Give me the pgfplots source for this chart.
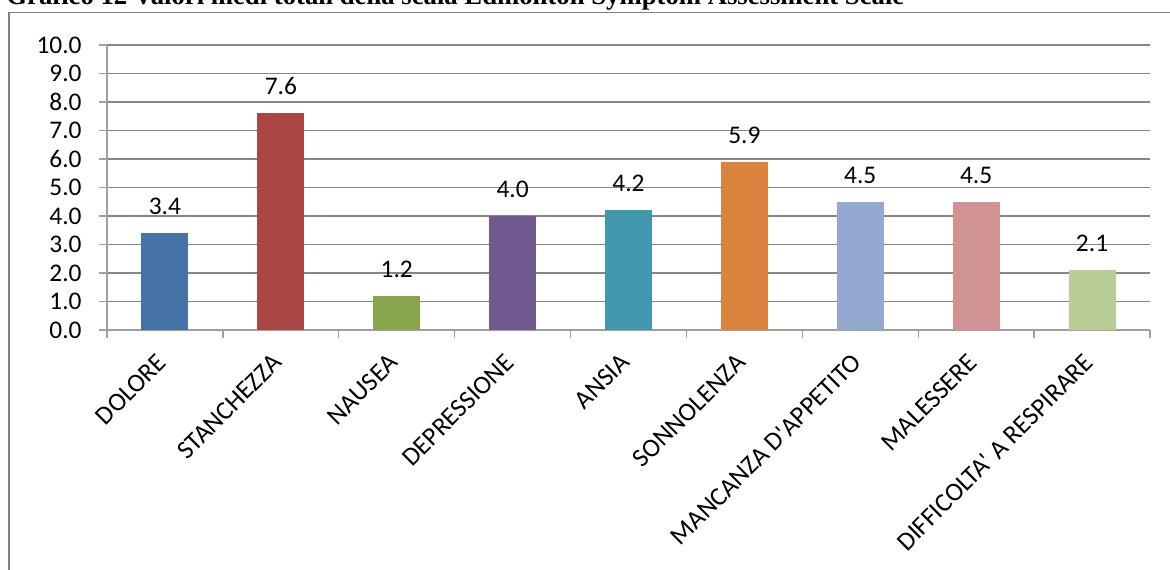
\documentclass[border=0pt]{standalone}
\usepackage{pgfplots}
\pgfplotsset{compat=1.18}
\usepackage{fontspec}
\setmainfont{Carlito}
\newfontfamily\apfont{Carlito}[Ligatures=TeXOff]
\newfontfamily\titlefont{Liberation Serif}
\newcommand{\apo}{{\apfont'}}

\definecolor{cDolore}{HTML}{4572A7}
\definecolor{cStanchezza}{HTML}{AA4643}
\definecolor{cNausea}{HTML}{89A54E}
\definecolor{cDepressione}{HTML}{71588F}
\definecolor{cAnsia}{HTML}{4198AF}
\definecolor{cSonnolenza}{HTML}{DB843D}
\definecolor{cAppetito}{HTML}{93A9CF}
\definecolor{cMalessere}{HTML}{D19392}
\definecolor{cRespiro}{HTML}{B9CD96}
\definecolor{gridgray}{RGB}{134,134,134}
\definecolor{axisgray}{RGB}{160,160,160}
\definecolor{framegray}{RGB}{128,128,128}

\begin{document}
\begin{tikzpicture}[x=1pt,y=1pt]
\useasboundingbox (0,0) rectangle (585,284.5);
\clip (0,0) rectangle (585,284.5);
% outer frame of the chart area
\draw[framegray, line width=0.8pt] (4.5,-20) rectangle (620,278.2);
% caption
\node[anchor=base west, inner sep=0pt, font=\titlefont\bfseries\fontsize{13.35}{16}\selectfont]
  at (3,282) {Grafico 12 Valori medi totali della scala Edmonton Symptom Assessment Scale};
\begin{axis}[
  at={(53.5pt,119.5pt)}, anchor=south west,
  scale only axis, width=521.5pt, height=142.5pt,
  ybar, bar width=23.5pt, bar shift=0pt,
  xmin=-0.5, xmax=8.5, ymin=0, ymax=10,
  enlargelimits=false,
  axis lines=left,
  axis line style={-, axisgray, line width=0.7pt},
  ymajorgrids,
  grid style={gridgray, line width=0.7pt},
  ytick={0,1,...,10},
  tick align=outside,
  major tick length=4pt, minor tick length=4pt,
  tick style={axisgray, line width=0.7pt},
  xtick={0,...,8},
  xticklabels={DOLORE, STANCHEZZA, NAUSEA, DEPRESSIONE, ANSIA, SONNOLENZA,
    {MANCANZA D\apo APPETITO}, MALESSERE, {DIFFICOLTA\apo{} A RESPIRARE}},
  minor xtick={-0.5,0.5,...,8.5},
  every major x tick/.append style={draw=none},
  /pgf/number format/assume math mode=true,
  every tick label/.append style={font=\fontsize{12.7}{15}\selectfont},
  yticklabel style={/pgf/number format/.cd, fixed, fixed zerofill, precision=1,
    /tikz/.cd, anchor=east, inner sep=0pt, xshift=-8.5pt},
  xticklabel style={font=\fontsize{13}{15}\selectfont,
    xshift=1.5pt, yshift=-13pt, rotate=45, anchor=base east, inner sep=0pt},
  nodes near coords={\pgfmathprintnumber[fixed, fixed zerofill, precision=1]{\pgfplotspointmeta}},
  every node near coord/.append style={font=\fontsize{12.7}{15}\selectfont,
    anchor=base, inner sep=0pt, yshift=9.25pt, text=black},
]
\addplot[fill=cDolore, draw=none] coordinates {(0,3.4)};
\addplot[fill=cStanchezza, draw=none] coordinates {(1,7.6)};
\addplot[fill=cNausea, draw=none] coordinates {(2,1.2)};
\addplot[fill=cDepressione, draw=none] coordinates {(3,4.0)};
\addplot[fill=cAnsia, draw=none] coordinates {(4,4.2)};
\addplot[fill=cSonnolenza, draw=none] coordinates {(5,5.9)};
\addplot[fill=cAppetito, draw=none] coordinates {(6,4.5)};
\addplot[fill=cMalessere, draw=none] coordinates {(7,4.5)};
\addplot[fill=cRespiro, draw=none] coordinates {(8,2.1)};
\end{axis}
\end{tikzpicture}
\end{document}
